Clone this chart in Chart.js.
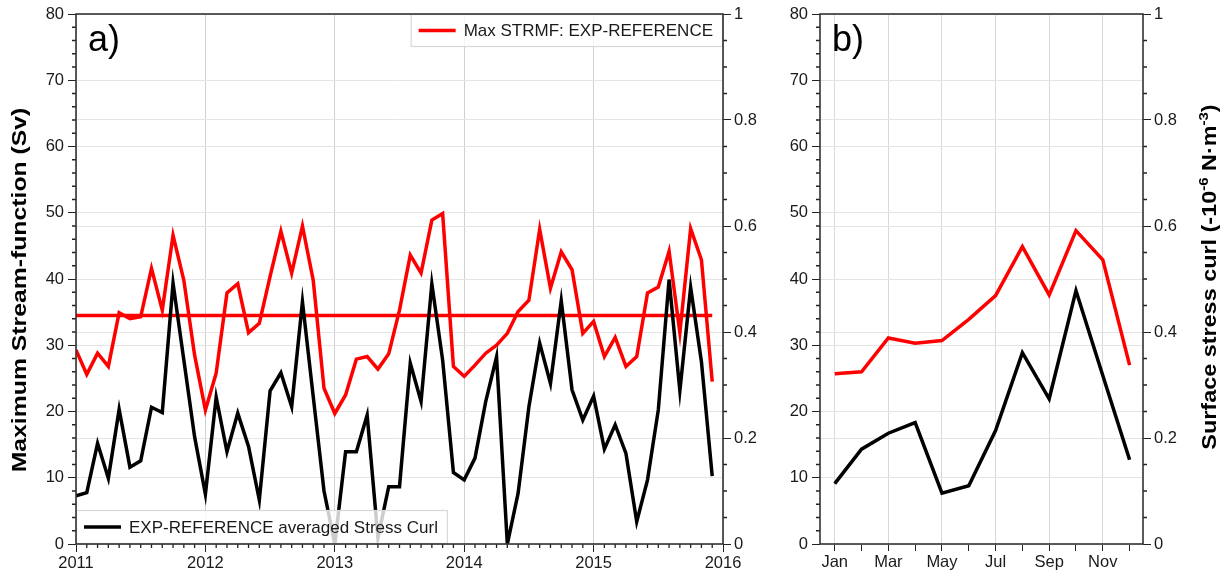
<!DOCTYPE html>
<html>
<head>
<meta charset="utf-8">
<script src="https://cdn.jsdelivr.net/npm/chart.js@4.4.1/dist/chart.umd.min.js"></script>
<style>
  html, body { margin: 0; padding: 0; background: #fff; }
  #chartA { position: absolute; left: 0; top: 0; }
  #chartB { position: absolute; left: 780px; top: 0; }
</style>
</head>
<body>
<canvas id="chartA" width="780" height="573"></canvas>
<canvas id="chartB" width="448" height="573"></canvas>
<script>
// ---- data ----
const years = [2011, 2012, 2013, 2014, 2015];
const monthNames = ["Jan", "Feb", "Mar", "Apr", "May", "Jun", "Jul", "Aug", "Sep", "Oct", "Nov", "Dec"];

// Max STRMF: EXP-REFERENCE (Sv), monthly Jan 2011 - Dec 2015
const strmf = [
  29.3, 25.6, 28.8, 26.8, 34.9, 34.0, 34.3, 41.6, 35.3, 46.6, 39.8, 28.5,
  20.2, 25.8, 37.9, 39.3, 31.9, 33.3, 40.4, 47.2, 40.9, 48.0, 39.8, 23.5,
  19.7, 22.5, 27.9, 28.3, 26.4, 28.7, 35.3, 43.6, 40.9, 48.9, 49.9, 26.8,
  25.3, 27.0, 28.8, 30.0, 31.8, 35.1, 36.8, 47.5, 38.6, 44.1, 41.4, 31.8,
  33.6, 28.3, 31.2, 26.8, 28.3, 37.9, 38.8, 44.2, 31.9, 47.6, 42.9, 24.5
];
const strmfMean = 34.5;

// EXP-REFERENCE averaged stress curl (-1e-6 N m-3), monthly
const curl = [
  0.091, 0.097, 0.190, 0.124, 0.254, 0.145, 0.157, 0.258, 0.248, 0.492, 0.347, 0.202,
  0.094, 0.277, 0.174, 0.247, 0.184, 0.083, 0.289, 0.323, 0.259, 0.457, 0.278, 0.100,
  0.000, 0.174, 0.174, 0.243, 0.012, 0.108, 0.108, 0.341, 0.269, 0.491, 0.347, 0.135,
  0.121, 0.162, 0.269, 0.353, 0.000, 0.096, 0.259, 0.379, 0.303, 0.459, 0.291, 0.234,
  0.279, 0.179, 0.225, 0.171, 0.042, 0.121, 0.253, 0.499, 0.289, 0.484, 0.344, 0.128
];

// monthly climatology (panel b)
const strmfClim = [25.7, 26.0, 31.1, 30.3, 30.7, 33.9, 37.5, 44.9, 37.6, 47.3, 42.9, 27.0];
const curlClim = [0.114, 0.179, 0.209, 0.229, 0.096, 0.110, 0.214, 0.361, 0.274, 0.478, 0.318, 0.159];

// ---- helpers ----
const FONT = "'Liberation Sans', Arial, Helvetica, sans-serif";
Chart.defaults.font.family = FONT;
Chart.defaults.font.size = 16.5;
Chart.defaults.color = "#1a1a1a";

const times = [];
years.forEach(y => monthNames.forEach((m, i) => times.push(y + i / 12)));
const pts = (xs, ys) => ys.map((v, i) => ({ x: xs[i], y: v }));

function minorTicks(ctx, chart, id, values, len) {
  const s = chart.scales[id], a = chart.chartArea;
  ctx.beginPath();
  values.forEach(v => {
    const p = s.getPixelForValue(v);
    if (s.position === "left") { ctx.moveTo(a.left, p); ctx.lineTo(a.left - len, p); }
    else if (s.position === "right") { ctx.moveTo(a.right, p); ctx.lineTo(a.right + len, p); }
    else { ctx.moveTo(p, a.bottom); ctx.lineTo(p, a.bottom + len); }
  });
  ctx.stroke();
}

function legendBox(ctx, x, y, h, color, label, alignRight) {
  ctx.font = "17px " + FONT;
  const tw = ctx.measureText(label).width;
  const w = 8 + 37 + 8 + tw + 10;
  const bx = alignRight ? x - w : x;
  ctx.fillStyle = "rgba(255,255,255,0.8)";
  ctx.fillRect(bx, y, w, h);
  ctx.strokeStyle = "#d8d8d8";
  ctx.lineWidth = 1.2;
  ctx.strokeRect(bx + 0.5, y + 0.5, w - 1, h - 1);
  ctx.strokeStyle = color;
  ctx.lineWidth = 3.5;
  ctx.beginPath();
  ctx.moveTo(bx + 8, y + h / 2);
  ctx.lineTo(bx + 45, y + h / 2);
  ctx.stroke();
  ctx.fillStyle = "#1a1a1a";
  ctx.textBaseline = "middle";
  ctx.textAlign = "left";
  ctx.fillText(label, bx + 53, y + h / 2 + 1);
}

// rotated (bottom-to-top) axis title, stretched along the text like the source figure
function sideTitle(ctx, parts, x, yMid, stretch) {
  const big = "bold 19.5px " + FONT, small = "bold 12.5px " + FONT;
  ctx.save();
  ctx.translate(x, yMid);
  ctx.rotate(-Math.PI / 2);
  ctx.scale(stretch, 1);
  let total = 0;
  parts.forEach(p => { ctx.font = p[1] ? small : big; total += ctx.measureText(p[0]).width; });
  let tx = -total / 2;
  ctx.fillStyle = "#000";
  ctx.textAlign = "left";
  ctx.textBaseline = "alphabetic";
  parts.forEach(p => {
    ctx.font = p[1] ? small : big;
    ctx.fillText(p[0], tx, p[1] ? -8 : 0);
    tx += ctx.measureText(p[0]).width;
  });
  ctx.restore();
}

const range = (a, b, step, skip) => {
  const out = [];
  for (let v = a; v <= b + 1e-9; v += step) {
    if (skip && Math.abs(v / skip - Math.round(v / skip)) < 1e-6) continue;
    out.push(v);
  }
  return out;
};

function decor(opts) {
  return {
    id: "decor",
    afterDatasetsDraw(chart) {
      const ctx = chart.ctx, a = chart.chartArea;
      ctx.save();
      (opts.legends || []).forEach(l => {
        if (l.pos === "tr") legendBox(ctx, a.right, a.top, 33, l.color, l.label, true);
        else legendBox(ctx, a.left, a.bottom - 34, 34, l.color, l.label, false);
      });
      ctx.restore();
    },
    afterDraw(chart) {
      const ctx = chart.ctx, a = chart.chartArea;
      ctx.save();
      ctx.strokeStyle = "#222";
      ctx.lineWidth = 1.3;
      opts.minor.forEach(m => minorTicks(ctx, chart, m.id, m.values, 4));
      ctx.strokeStyle = "#333";
      ctx.lineWidth = 1.6;
      ctx.strokeRect(a.left, a.top, a.right - a.left, a.bottom - a.top);
      // panel letter
      ctx.fillStyle = "#000";
      ctx.font = "36px " + FONT;
      ctx.textBaseline = "alphabetic";
      ctx.textAlign = "left";
      ctx.fillText(opts.letter, a.left + 12, a.top + 37);
      ctx.restore();
      if (opts.title) sideTitle(ctx, opts.title.parts, opts.title.x, opts.title.y, opts.title.stretch);
    }
  };
}

const lineStyle = { pointRadius: 0, borderWidth: 3.5, tension: 0, fill: false };
const gridLight = "#e4e4e4";

// ---- panel a ----
new Chart(document.getElementById("chartA"), {
  type: "line",
  data: {
    datasets: [
      { label: "EXP-REFERENCE averaged Stress Curl", data: pts(times, curl), borderColor: "#000", yAxisID: "y2", ...lineStyle },
      { label: "Max STRMF: EXP-REFERENCE", data: pts(times, strmf), borderColor: "#ff0000", yAxisID: "y", ...lineStyle },
      { label: "mean", data: [{ x: times[0], y: strmfMean }, { x: times[times.length - 1], y: strmfMean }], borderColor: "#ff0000", yAxisID: "y", ...lineStyle }
    ]
  },
  options: {
    responsive: false,
    animation: false,
    layout: { padding: { top: 14, left: 0, right: 0, bottom: 0 } },
    plugins: { legend: { display: false }, tooltip: { enabled: false } },
    scales: {
      x: {
        type: "linear", min: 2011, max: 2016,
        ticks: { stepSize: 1, padding: 2, maxRotation: 0, callback: v => String(v) },
        grid: { color: "#d0d0d0", tickColor: "#222", tickLength: 8 },
        border: { display: false },
        afterFit: s => { s.height = 29; }
      },
      y: {
        position: "left", min: 0, max: 80,
        ticks: { stepSize: 10, padding: 4 },
        grid: { color: gridLight, tickColor: "#222", tickLength: 8 },
        border: { display: false },
        afterFit: s => { s.width = 76; }
      },
      y2: {
        position: "right", min: 0, max: 1,
        ticks: { stepSize: 0.2, padding: 3, callback: v => (v === 0 || v === 1) ? String(v) : v.toFixed(1) },
        grid: { color: gridLight, tickColor: "#222", tickLength: 8 },
        border: { display: false },
        afterFit: s => { s.width = 57; }
      }
    }
  },
  plugins: [decor({
    letter: "a)",
    title: { parts: [["Maximum Stream-function (Sv)", 0]], x: 26, y: 290, stretch: 1.27 },
    legends: [
      { pos: "tr", color: "#ff0000", label: "Max STRMF: EXP-REFERENCE" },
      { pos: "bl", color: "#000", label: "EXP-REFERENCE averaged Stress Curl" }
    ],
    minor: [
      { id: "y", values: range(0, 80, 2, 10) },
      { id: "y2", values: range(0, 1, 0.05, 0.2) },
      { id: "x", values: range(2011, 2016, 1 / 12, 1) }
    ]
  })]
});

// ---- panel b ----
const monthIdx = monthNames.map((m, i) => i);
new Chart(document.getElementById("chartB"), {
  type: "line",
  data: {
    datasets: [
      { label: "curl clim", data: pts(monthIdx, curlClim), borderColor: "#000", yAxisID: "y2", ...lineStyle },
      { label: "strmf clim", data: pts(monthIdx, strmfClim), borderColor: "#ff0000", yAxisID: "y", ...lineStyle }
    ]
  },
  options: {
    responsive: false,
    animation: false,
    layout: { padding: { top: 14, left: 0, right: 0, bottom: 0 } },
    plugins: { legend: { display: false }, tooltip: { enabled: false } },
    scales: {
      x: {
        type: "linear", min: -0.55, max: 11.5,
        afterBuildTicks: s => { s.ticks = monthIdx.map(v => ({ value: v })); },
        ticks: { autoSkip: false, maxRotation: 0, padding: 2, callback: v => (v % 2 === 0 ? monthNames[v] : "") },
        grid: {
          color: c => (c.tick && c.tick.value % 2 === 0 ? "#d8d8d8" : "rgba(0,0,0,0)"),
          tickColor: "#222", tickLength: 7
        },
        border: { display: false },
        afterFit: s => { s.height = 29; }
      },
      y: {
        position: "left", min: 0, max: 80,
        ticks: { stepSize: 10, padding: 4 },
        grid: { color: gridLight, tickColor: "#222", tickLength: 8 },
        border: { display: false },
        afterFit: s => { s.width = 40; }
      },
      y2: {
        position: "right", min: 0, max: 1,
        ticks: { stepSize: 0.2, padding: 3, callback: v => (v === 0 || v === 1) ? String(v) : v.toFixed(1) },
        grid: { color: gridLight, tickColor: "#222", tickLength: 8 },
        border: { display: false },
        afterFit: s => { s.width = 85; }
      }
    }
  },
  plugins: [decor({
    letter: "b)",
    title: {
      parts: [["Surface stress curl (-10", 0], ["-6", 1], [" N\u00b7m", 0], ["-3", 1], [")", 0]],
      x: 436, y: 277, stretch: 1.2
    },
    minor: [
      { id: "y", values: range(0, 80, 2, 10) },
      { id: "y2", values: range(0, 1, 0.05, 0.2) }
    ]
  })]
});
</script>
</body>
</html>
